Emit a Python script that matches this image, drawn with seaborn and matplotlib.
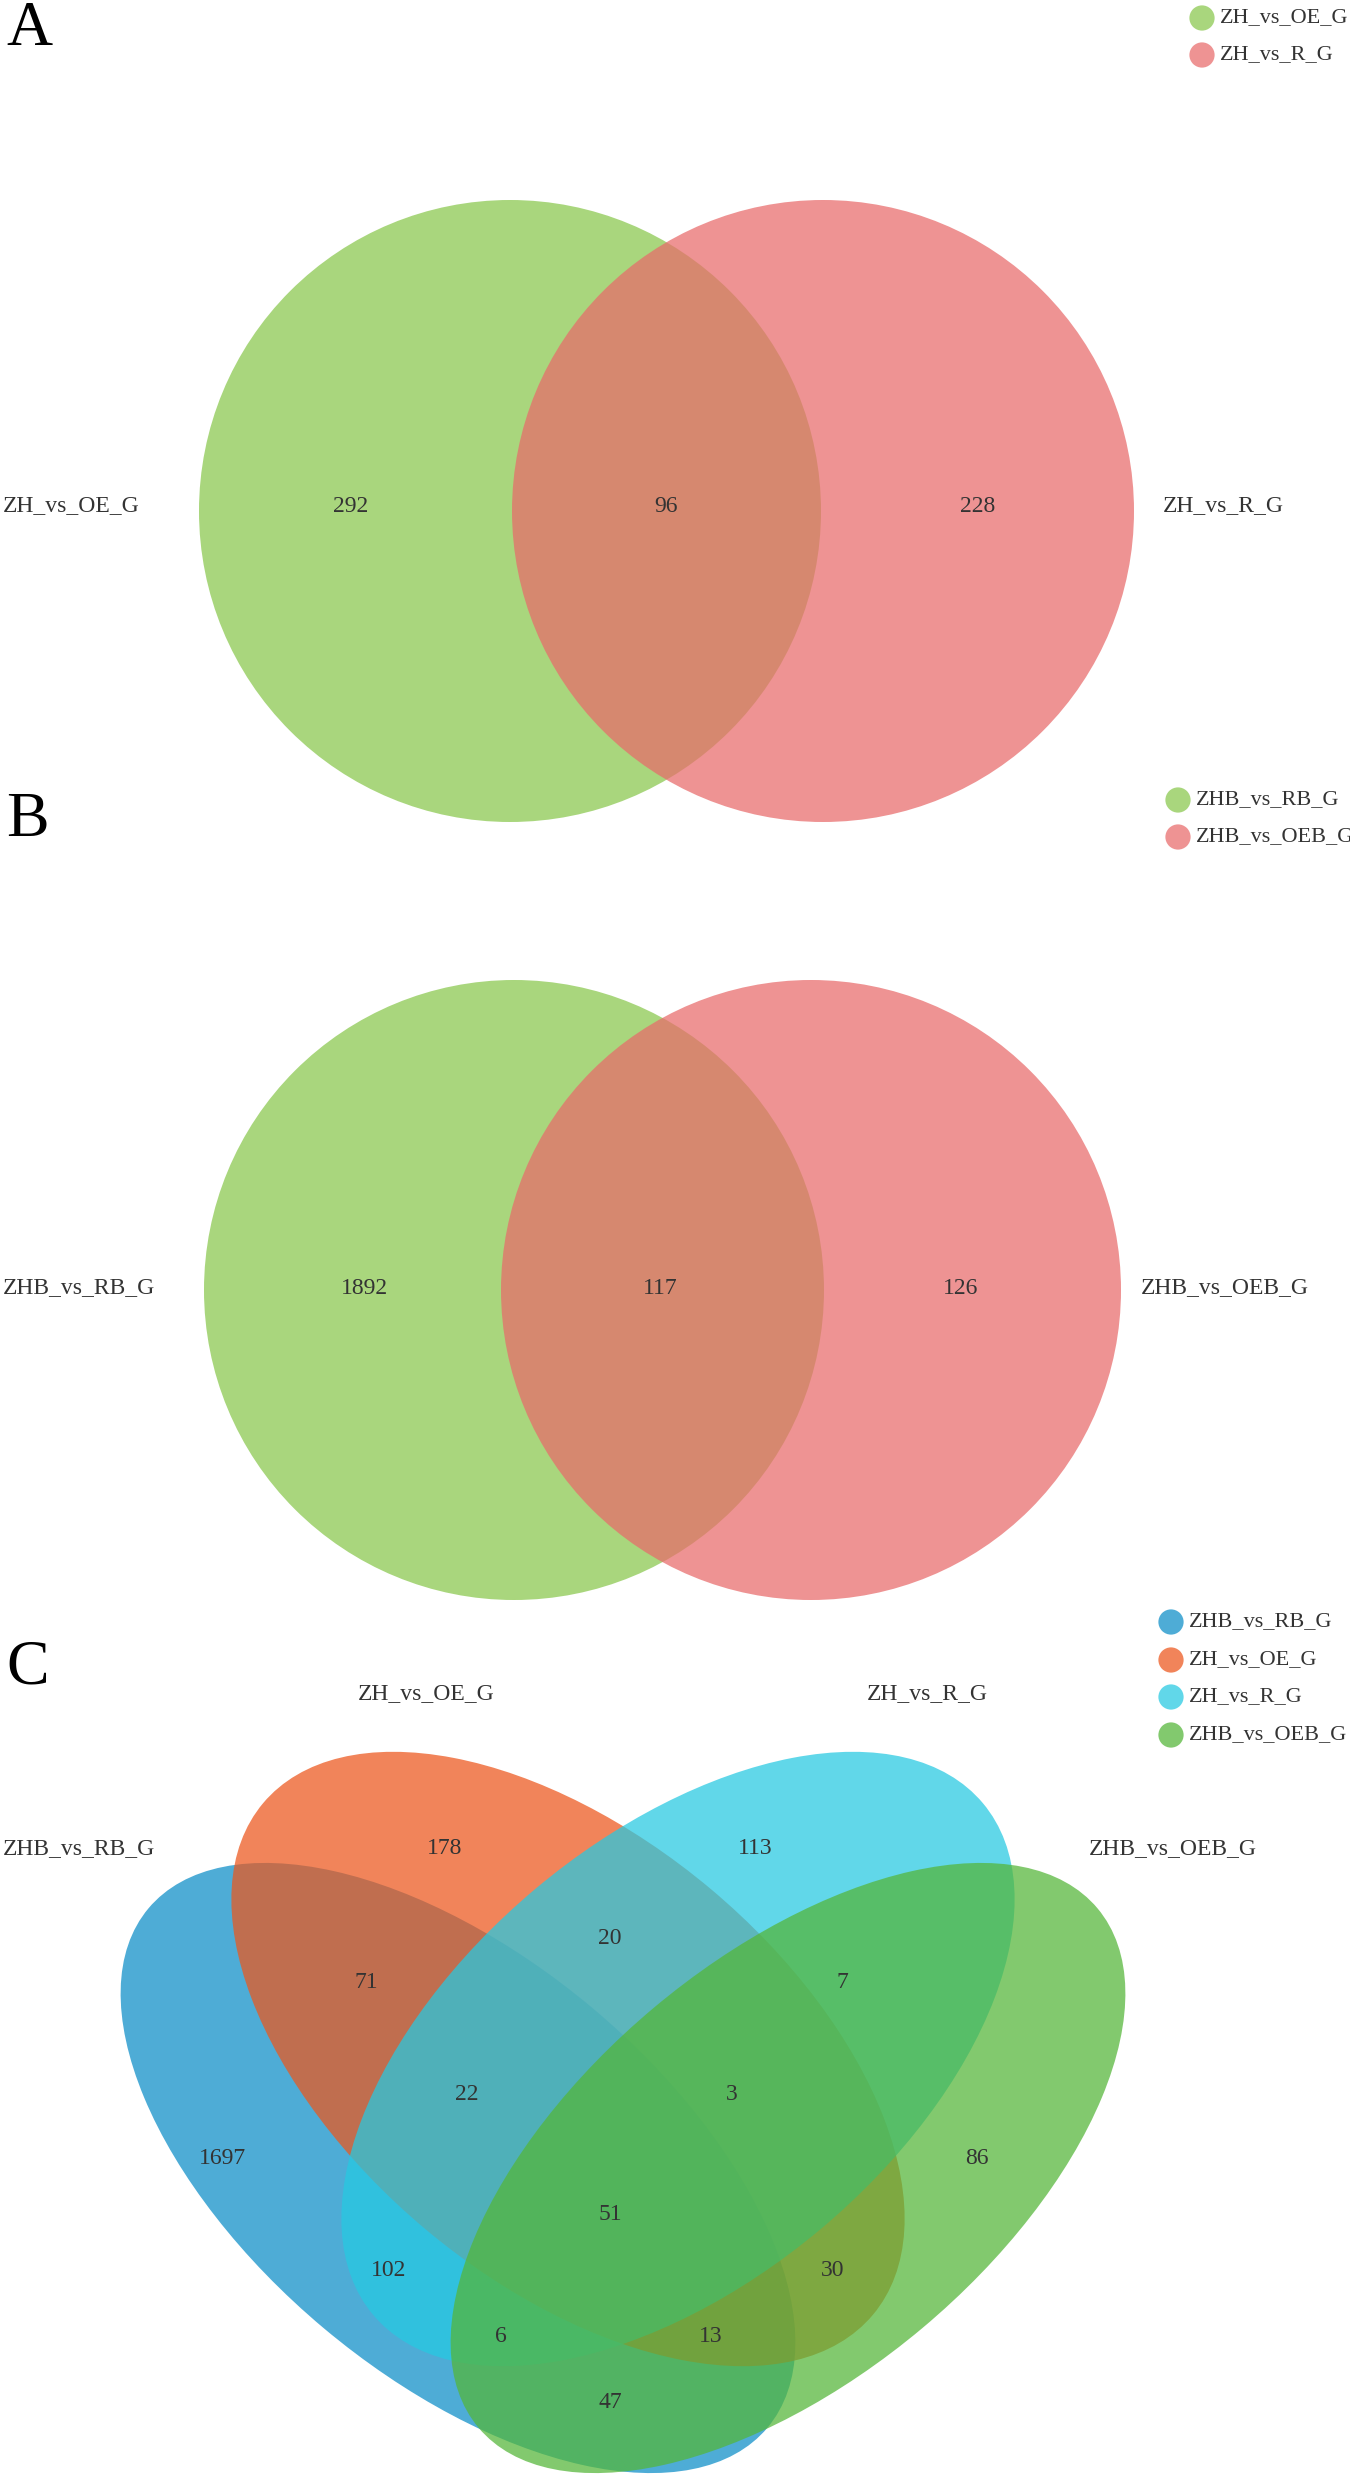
import numpy as np
import pandas as pd
import matplotlib
matplotlib.use("Agg")
import matplotlib.pyplot as plt
from matplotlib.patches import Ellipse, Circle
import seaborn as sns

# ---------------- data ----------------
a_sets = ["ZH_vs_OE_G", "ZH_vs_R_G"]
a_counts = [292, 96, 228]            # only set1, both, only set2
b_sets = ["ZHB_vs_RB_G", "ZHB_vs_OEB_G"]
b_counts = [1892, 117, 126]
c_sets = ["ZHB_vs_RB_G", "ZH_vs_OE_G", "ZH_vs_R_G", "ZHB_vs_OEB_G"]
c_regions = ["1000", "0100", "0010", "0001", "1100", "0110", "0011", "1110",
             "0111", "1111", "1010", "0101", "1011", "1101", "1001"]
c_counts = [1697, 178, 113, 86, 71, 20, 7, 22, 3, 51, 102, 30, 6, 13, 47]

# ---------------- style ----------------
sns.set_theme(style="white")
plt.rcParams['font.family'] = ['Liberation Serif', 'DejaVu Serif']
TXT = '#333333'
FS = 17
LFS = 16
ALPHA = 0.73

two_colors = ['#89C74D', '#E86B6B']
four_colors = ['#0C8EC8', '#EC571D', '#26C9E2', '#54B638']

W, H = 1350, 2479
fig = plt.figure(figsize=(W / 100, H / 100), dpi=100)
ax = fig.add_axes([0, 0, 1, 1])
ax.set_xlim(0, W)
ax.set_ylim(H, 0)
ax.axis('off')

# ---------------- layout ----------------
two_layout = {
    'A': dict(cy=511, cx=(510, 823), r=311, num_x=(351, 666, 978), num_y=506,
              lab_left=(3, 506), lab_right=(1163, 506), letter=(6, 45),
              leg_x=1202, leg_y=(18, 55)),
    'B': dict(cy=1290, cx=(514, 811), r=310, num_x=(364, 660, 961), num_y=1288,
              lab_left=(3, 1288), lab_right=(1141, 1288), letter=(6, 836),
              leg_x=1178, leg_y=(800, 837)),
}

def draw_two(key, sets, counts):
    L = two_layout[key]
    for i in range(2):
        ax.add_patch(Circle((L['cx'][i], L['cy']), L['r'], facecolor=two_colors[i],
                            edgecolor='none', alpha=ALPHA, zorder=1 + i))
    for x, n in zip(L['num_x'], counts):
        ax.text(x, L['num_y'], str(n), ha='center', va='center', fontsize=FS, color=TXT, zorder=5)
    ax.text(*L['lab_left'], sets[0], ha='left', va='center', fontsize=FS, color=TXT)
    ax.text(*L['lab_right'], sets[1], ha='left', va='center', fontsize=FS, color=TXT)
    ax.text(*L['letter'], key, ha='left', va='baseline', fontsize=46, color='black')
    leg = pd.DataFrame({'x': [L['leg_x']] * 2, 'y': list(L['leg_y']), 'set': sets})
    sns.scatterplot(data=leg, x='x', y='y', hue='set', palette=dict(zip(sets, two_colors)),
                    s=330, alpha=ALPHA, edgecolor='none', legend=False, ax=ax, zorder=6)
    for yy, name in zip(L['leg_y'], sets):
        ax.text(L['leg_x'] + 18, yy, name, ha='left', va='center', fontsize=LFS, color=TXT)

draw_two('A', a_sets, a_counts)
draw_two('B', b_sets, b_counts)

# ---------------- panel C ----------------
ell = [  # center x, center y, width, height, angle
    (458, 2168, 808, 418, 40),
    (568, 2059, 796, 444, 40),
    (678, 2059, 796, 444, -40),
    (788, 2168, 808, 418, -40),
]
for i, (ex, ey, ew, eh, ea) in enumerate(ell):
    ax.add_patch(Ellipse((ex, ey), ew, eh, angle=ea, facecolor=four_colors[i],
                         edgecolor='none', alpha=ALPHA, zorder=1 + i))

c_pos = {
    "1000": (222, 2158), "0100": (445, 1849), "0010": (755, 1849), "0001": (977, 2158),
    "1100": (366, 1982), "0110": (610, 1938), "0011": (842, 1982), "1110": (467, 2094),
    "0111": (732, 2094), "1111": (610, 2214), "1010": (389, 2270), "0101": (833, 2270),
    "1011": (501, 2337), "1101": (711, 2337), "1001": (610, 2402),
}
for reg, n in zip(c_regions, c_counts):
    x, y = c_pos[reg]
    ax.text(x, y, str(n), ha='center', va='center', fontsize=FS, color=TXT, zorder=10)

ax.text(3, 1849, c_sets[0], ha='left', va='center', fontsize=FS, color=TXT)
ax.text(426, 1694, c_sets[1], ha='center', va='center', fontsize=FS, color=TXT)
ax.text(927, 1694, c_sets[2], ha='center', va='center', fontsize=FS, color=TXT)
ax.text(1173, 1849, c_sets[3], ha='center', va='center', fontsize=FS, color=TXT)
ax.text(6, 1683, 'C', ha='left', va='baseline', fontsize=46, color='black')

leg_y_c = [1622, 1660, 1697, 1735]
legc = pd.DataFrame({'x': [1171] * 4, 'y': leg_y_c, 'set': c_sets})
sns.scatterplot(data=legc, x='x', y='y', hue='set', palette=dict(zip(c_sets, four_colors)),
                s=330, alpha=ALPHA, edgecolor='none', legend=False, ax=ax, zorder=6)
for yy, name in zip(leg_y_c, c_sets):
    ax.text(1189, yy, name, ha='left', va='center', fontsize=LFS, color=TXT)

ax.set_xlim(0, W)
ax.set_ylim(H, 0)
ax.set_xlabel('')
ax.set_ylabel('')
fig.savefig('out.png', dpi=100, facecolor='white')
